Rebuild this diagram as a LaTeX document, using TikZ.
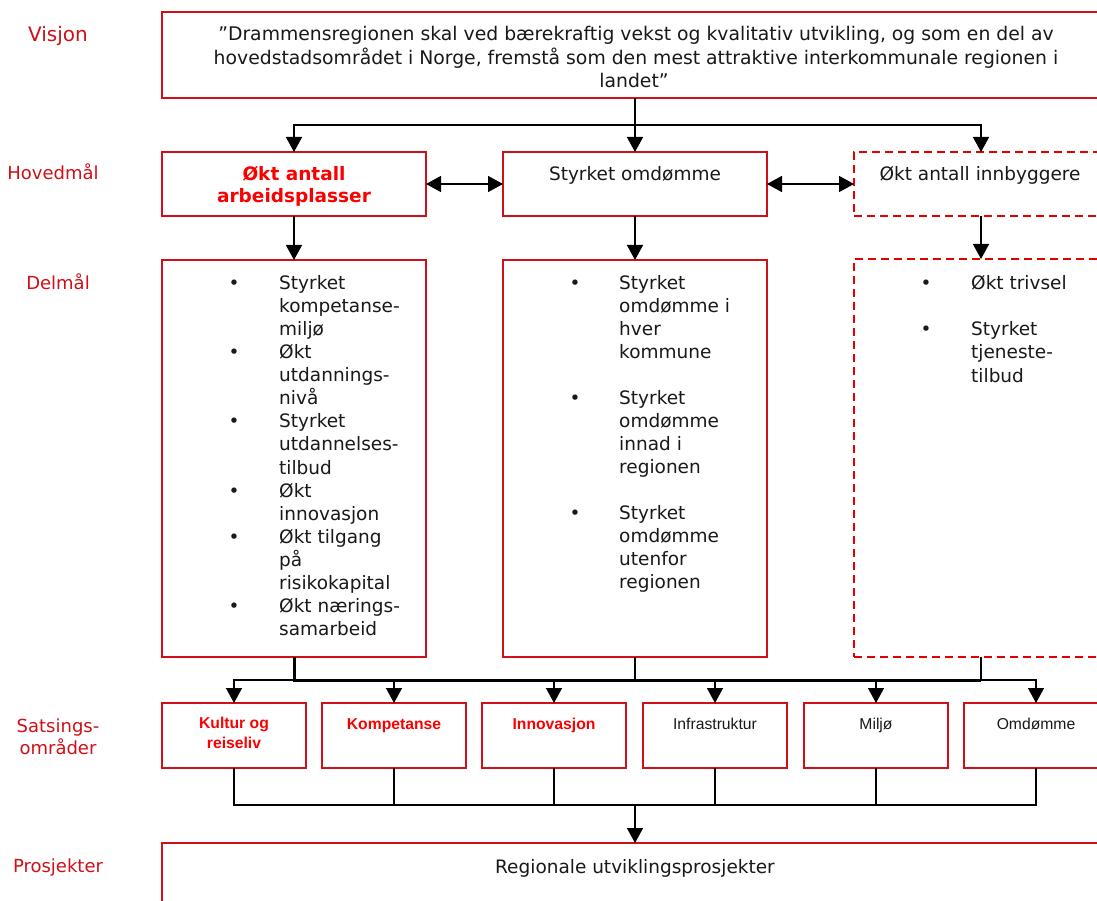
\documentclass[tikz,border=0pt]{standalone}
\usepackage{fontspec}
\setmainfont{DejaVu Sans}
\newfontfamily\arialfont{Liberation Sans}
\usetikzlibrary{arrows.meta}
\definecolor{boxred}{RGB}{208,16,24}
\definecolor{labred}{RGB}{208,16,24}
\definecolor{txtred}{RGB}{250,0,0}
\definecolor{txt}{RGB}{25,25,25}
\tikzset{
  box/.style={draw=boxred, line width=1.8pt, inner sep=0pt, outer sep=0pt, fill=white},
  dbox/.style={box, dash pattern=on 8pt off 5pt, draw=red!90!black},
  vt/.style={font=\fontsize{18.5}{23}\selectfont, text=txt, inner sep=0pt, anchor=base},
  vtl/.style={vt, anchor=base west},
  vtb/.style={font=\fontsize{18.5}{23}\selectfont\bfseries, text=txtred, inner sep=0pt, anchor=base},
  lab/.style={font=\fontsize{18}{22}\selectfont, text=labred, inner sep=0pt, anchor=base},
  st/.style={font=\arialfont\fontsize{15.7}{20}\selectfont, text=txt, inner sep=0pt, anchor=base},
  stb/.style={font=\arialfont\fontsize{15.7}{20}\selectfont\bfseries, text=txtred, inner sep=0pt, anchor=base},
  conn/.style={draw=black, line width=1.5pt},
  arr/.style={conn, -{Triangle[width=16pt,length=15pt]}},
  darr/.style={conn, {Triangle[width=16pt,length=15pt]}-{Triangle[width=16pt,length=15pt]}},
}
\begin{document}
\begin{tikzpicture}[x=1pt,y=-1pt]
\useasboundingbox (0,0) rectangle (1097,901);
\clip (0,0) rectangle (1097,901);
\fill[white] (0,0) rectangle (1097,901);

% left labels
\node[lab, font=\fontsize{20}{24}\selectfont] (lvis) at (58,42) {Visjon};
\node[lab] (lhov) at (53,180) {Hovedmål};
\node[lab] (ldel) at (58,289) {Delmål};
\node[lab] (lsat1) at (58,732) {Satsings-};
\node[lab] (lsat2) at (58,754) {områder};
\node[lab] (lpro) at (58,872) {Prosjekter};

% vision
\node[box, minimum width=946pt, minimum height=86pt] (vis) at (635,55) {};
\node[vt, font=\fontsize{18.8}{23}\selectfont] (vl1) at (636,41) {”Drammensregionen skal ved bærekraftig vekst og kvalitativ utvikling, og som en del av};
\node[vt, font=\fontsize{18.8}{23}\selectfont] (vl2) at (636,64.5) {hovedstadsområdet i Norge, fremstå som den mest attraktive interkommunale regionen i};
\node[vt, font=\fontsize{18.8}{23}\selectfont] (vl3) at (634,88) {landet”};

% hovedmaal
\node[box, minimum width=264pt, minimum height=64pt] (h1) at (294,184) {};
\node[box, minimum width=264pt, minimum height=64pt] (h2) at (635,184) {};
\node[dbox, minimum width=254pt, minimum height=64pt] (h3) at (981,184) {};
\node[vtb] (h1a) at (294,181) {Økt antall};
\node[vtb] (h1b) at (294,203) {arbeidsplasser};
\node[vt] (h2a) at (635,181) {Styrket omdømme};
\node[vt] (h3a) at (980,181) {Økt antall innbyggere};

% delmaal
\node[box, minimum width=264pt, minimum height=397pt] (d1) at (294,458.5) {};
\node[box, minimum width=264pt, minimum height=397pt] (d2) at (635,458.5) {};
\node[dbox, minimum width=254pt, minimum height=398pt] (d3) at (981,458) {};

\foreach \t [count=\i from 0] in {Styrket,kompetanse-,miljø,Økt,utdannings-,nivå,Styrket,utdannelses-,tilbud,Økt,innovasjon,Økt tilgang,på,risikokapital,Økt nærings-,samarbeid}
  \node[vtl] (da\i) at (279,{289+23.13*\i}) {\t};
\foreach \i in {0,3,6,9,11,14}
  \node[vt] (dab\i) at (234,{289+23.13*\i}) {•};

\foreach \t/\i in {Styrket/0,omdømme i/1,hver/2,kommune/3,Styrket/5,omdømme/6,innad i/7,regionen/8,Styrket/10,omdømme/11,utenfor/12,regionen/13}
  \node[vtl] (db\i) at (619,{289+23*\i}) {\t};
\foreach \i in {0,5,10}
  \node[vt] (dbb\i) at (575,{289+23*\i}) {•};

\foreach \t/\i in {Økt trivsel/0,Styrket/2,tjeneste-/3,tilbud/4}
  \node[vtl] (dc\i) at (971,{289+23.3*\i}) {\t};
\foreach \i in {0,2}
  \node[vt] (dcb\i) at (926,{289+23.3*\i}) {•};

% satsingsomraader
\foreach \n/\x in {1/234,2/394,3/554,4/715,5/876,6/1036}
  \node[box, minimum width=144pt, minimum height=65pt] (s\n) at (\x,735.5) {};
\node[stb] (s1a) at (234,728) {Kultur og};
\node[stb] (s1b) at (234,748) {reiseliv};
\node[stb] (s2a) at (394,729) {Kompetanse};
\node[stb] (s3a) at (554,729) {Innovasjon};
\node[st] (s4a) at (715,729) {Infrastruktur};
\node[st] (s5a) at (876,729) {Miljø};
\node[st] (s6a) at (1036,729) {Omdømme};

% prosjekter
\node[box, minimum width=946pt, minimum height=120pt] (proj) at (635,903) {};
\node[vt] (pa) at (635,873) {Regionale utviklingsprosjekter};

% connectors: vision -> hovedmaal
\coordinate (j1) at (635,125);
\draw[arr] (vis.south) -- (h2.north);
\draw[arr] (j1) -| (h1.north);
\draw[arr] (j1) -| (h3.north);
\draw[darr] (h1.east) -- (h2.west);
\draw[darr] (h2.east) -- (h3.west);

% hovedmaal -> delmaal
\draw[arr] (h1.south) -- (d1.north);
\draw[arr] (h2.south) -- (d2.north);
\draw[arr] (h3.south) -- (d3.north);

% delmaal -> satsingsomraader
\coordinate (b1) at (294,680);
\coordinate (b3) at (981,680);
\draw[conn, line width=3pt] (d1.south) -- (b1) -- (b3);
\draw[conn, line width=2pt] (d2.south) -- (d2.south |- b1);
\draw[conn, line width=2pt] (d3.south) -- (b3);
\draw[arr] (b1) -| (s1.north);
\draw[arr] (s2.north |- b1) -- (s2.north);
\draw[arr] (s3.north |- b1) -- (s3.north);
\draw[arr] (s4.north |- b1) -- (s4.north);
\draw[arr] (s5.north |- b1) -- (s5.north);
\draw[arr] (b3) -| (s6.north);

% satsingsomraader -> prosjekter
\coordinate (p) at (635,805);
\draw[conn] (s1.south) |- (p) -| (s6.south);
\foreach \n in {2,3,4,5}
  \draw[conn] (s\n.south) -- (s\n.south |- p);
\draw[arr] (p) -- (proj.north);
\end{tikzpicture}
\end{document}
